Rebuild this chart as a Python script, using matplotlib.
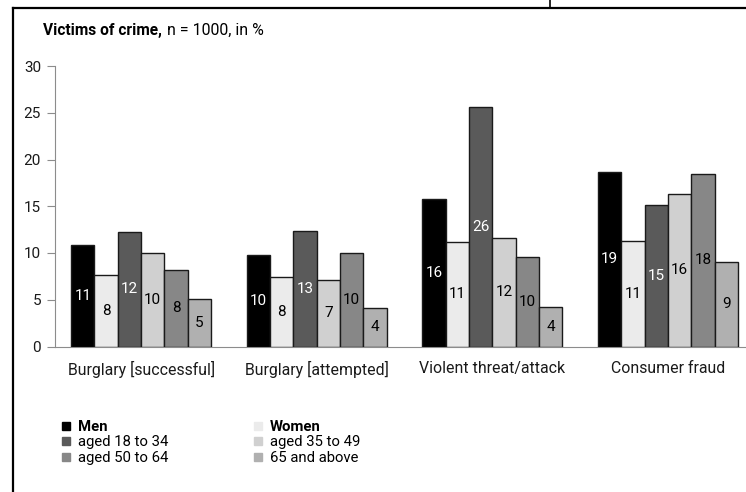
import numpy as np
import matplotlib
matplotlib.use('Agg')
from matplotlib import pyplot as plt
from matplotlib.lines import Line2D

plt.rcParams['font.family'] = ['Roboto', 'DejaVu Sans']

categories = ['Burglary [successful]', 'Burglary [attempted]', 'Violent threat/attack', 'Consumer fraud']
groups = ['Men', 'Women', 'aged 18 to 34', 'aged 35 to 49', 'aged 50 to 64', '65 and above']
colors = ['#000000', '#ebebeb', '#5a5a5a', '#d0d0d0', '#878787', '#b0b0b0']
label_colors = ['white', 'black', 'white', 'black', 'black', 'black']

# bar heights
men = [10.9, 9.8, 15.8, 18.7]
women = [7.7, 7.4, 11.2, 11.3]
aged_18_34 = [12.2, 12.4, 25.6, 15.1]
aged_35_49 = [10.0, 7.1, 11.6, 16.3]
aged_50_64 = [8.2, 10.0, 9.6, 18.5]
aged_65_up = [5.1, 4.1, 4.2, 9.0]
# printed labels
men_lab = [11, 10, 16, 19]
women_lab = [8, 8, 11, 11]
aged_18_34_lab = [12, 13, 26, 15]
aged_35_49_lab = [10, 7, 12, 16]
aged_50_64_lab = [8, 10, 10, 18]
aged_65_up_lab = [5, 4, 4, 9]

values = [men, women, aged_18_34, aged_35_49, aged_50_64, aged_65_up]
labels = [men_lab, women_lab, aged_18_34_lab, aged_35_49_lab, aged_50_64_lab, aged_65_up_lab]

fig = plt.figure(figsize=(7.46, 4.92), dpi=100)
ax = fig.add_axes([55 / 746, 1 - 346.5 / 492, 691 / 746, (346.5 - 66) / 492])

x = np.arange(len(categories))
w = 0.1328
handles = []
for i, (vals, labs) in enumerate(zip(values, labels)):
    pos = x + (i - 2.5) * w
    ax.bar(pos, vals, width=w, color=colors[i], edgecolor='#1a1a1a', linewidth=1.0, zorder=3)
    for p, v, l in zip(pos, vals, labs):
        ax.text(p, v / 2, str(l), ha='center', va='center', fontsize=11,
                color=label_colors[i], zorder=4)
    handles.append(Line2D([], [], marker='s', linestyle='none', markersize=5.5,
                          markerfacecolor=colors[i], markeredgecolor=colors[i]))

ax.set_xlim(-0.49, 3.444)
ax.set_ylim(0, 30)
ax.set_yticks([0, 5, 10, 15, 20, 25, 30])
ax.set_xticks(x)
ax.set_xticklabels(categories)
for s in ['top', 'right']:
    ax.spines[s].set_visible(False)
ax.spines['left'].set_color('#8c8c8c')
ax.spines['bottom'].set_color('#8c8c8c')
ax.tick_params(axis='y', length=6, color='#8c8c8c', labelsize=11, pad=4, labelcolor='#1a1a1a')
ax.tick_params(axis='x', length=0, labelsize=11.4, pad=10.5, labelcolor='#1a1a1a')

fig.text(43 / 746, 1 - 30 / 492, 'Victims of crime,', fontsize=11.2, fontweight='bold',
         va='center', ha='left')
fig.text(167 / 746, 1 - 30 / 492, 'n = 1000, in %', fontsize=11.4, va='center', ha='left')

# legend ordered column-wise
order = [0, 2, 4, 1, 3, 5]
leg = fig.legend([handles[k] for k in order], [groups[k] for k in order], ncol=2,
                 loc='upper left', bbox_to_anchor=(55 / 746, 1 - 414 / 492), frameon=False,
                 fontsize=10.7, handlelength=0.7, handletextpad=0.45, labelspacing=0.1,
                 columnspacing=5.7, borderaxespad=0)
for t in leg.get_texts():
    if t.get_text() in ('Men', 'Women'):
        t.set_fontweight('bold')

# page frame lines
fig.add_artist(Line2D([13 / 746, 1], [1 - 8 / 492, 1 - 8 / 492], color='black', lw=1.6))
fig.add_artist(Line2D([13 / 746, 13 / 746], [0, 1 - 8 / 492], color='black', lw=1.6))
fig.add_artist(Line2D([550 / 746, 550 / 746], [1 - 8 / 492, 1], color='black', lw=1.2))

plt.savefig('out.png', dpi=100)
